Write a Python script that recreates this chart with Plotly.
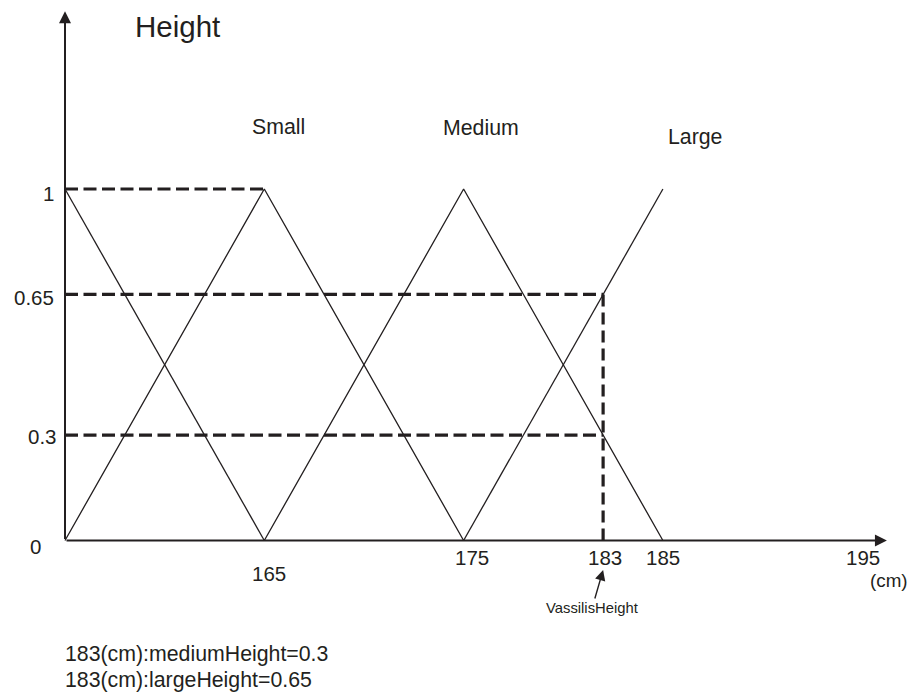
import plotly.graph_objects as go

# ---------------- data ----------------
small_x = [155, 165, 175]
small_y = [0, 1, 0]
medium_x = [165, 175, 185]
medium_y = [0, 1, 0]
large_x = [175, 185]
large_y = [0, 1]
falling_x = [155, 165]
falling_y = [1, 0]

# guide (dashed) lines, drawn positions as in the sketch
guide1_x = [155, 165]
guide1_y = [1, 1]
guide_hi_x = [155, 182]
guide_hi_y = [0.7, 0.7]
guide_lo_x = [155, 182]
guide_lo_y = [0.3, 0.3]
guide_v_x = [182, 182]
guide_v_y = [0.7, 0]

x_tick_vals = [165, 175, 182, 185, 195]
x_tick_text = ["165", "175", "183", "185", "195"]
y_tick_vals = [0, 0.3, 0.7, 1]
y_tick_text = ["0", "0.3", "0.65", "1"]

set_labels = ["Small", "Medium", "Large"]
notes = ["183(cm):mediumHeight=0.3", "183(cm):largeHeight=0.65"]

# ---------------- layout helpers ----------------
OFF = 8                      # page body margin
W, H = 908, 686
ML, MR, MT, MB = 47, 24, 2, 143
PW = W - ML - MR
PH = H - MT - MB
X0_REF, SX = 65.0, 19.93     # pixel of x=155 in the page, px per cm
Y0_REF, SY = 540.5, 351.5    # pixel of y=0 in the page, px per unit

x_lo = 155 - ((X0_REF - OFF) - ML) / SX
x_hi = 155 + ((W - MR) - (X0_REF - OFF)) / SX
y_lo = -((H - MB) - (Y0_REF - OFF)) / SY
y_hi = ((Y0_REF - OFF) - MT) / SY


def px(xp):
    return (xp - OFF - ML) / PW


def py(yp):
    return (H - MB - (yp - OFF)) / PH


FONT = "Liberation Sans, Arial, sans-serif"
INK = "#231f20"
FS = 21.3
FT = 20.5

fig = go.Figure()

for xs, ys, name in [(small_x, small_y, "Small"), (medium_x, medium_y, "Medium"),
                     (large_x, large_y, "Large"), (falling_x, falling_y, "falling")]:
    fig.add_trace(go.Scatter(x=xs, y=ys, mode="lines", name=name,
                             line=dict(color=INK, width=1.3), hoverinfo="skip"))

for xs, ys, dash in [(guide1_x, guide1_y, "13px,5.5px"), (guide_hi_x, guide_hi_y, "13px,5.5px"),
                     (guide_lo_x, guide_lo_y, "13px,5.5px"), (guide_v_x, guide_v_y, "12px,6px")]:
    fig.add_trace(go.Scatter(x=xs, y=ys, mode="lines",
                             line=dict(color=INK, width=3.2, dash=dash),
                             hoverinfo="skip"))

ann = []
# axes with arrows
ann.append(dict(x=196.24, y=0, ax=155, ay=0, xref="x", yref="y", axref="x", ayref="y",
                text="", showarrow=True, arrowhead=2, arrowsize=1.2, arrowwidth=2,
                arrowcolor=INK))
ann.append(dict(x=155, y=1.506, ax=155, ay=0, xref="x", yref="y", axref="x", ayref="y",
                text="", showarrow=True, arrowhead=2, arrowsize=1.2, arrowwidth=2,
                arrowcolor=INK))


def txt(**kw):
    d = dict(showarrow=False, xanchor="center", yanchor="middle")
    d.update(kw)
    return d


# x tick labels
x_label_px_y = [573, 557, 557, 557, 557]
x_label_shift = [5, 8, 2, 0, 1]
for v, t, yy, sh in zip(x_tick_vals, x_tick_text, x_label_px_y, x_label_shift):
    ann.append(txt(x=v, y=py(yy), xref="x", yref="paper", text=t, xshift=sh,
                   font=dict(size=FT, color=INK, family=FONT)))
ann.append(txt(x=px(910), y=py(580), xref="paper", yref="paper", text="(cm)",
               xanchor="right", font=dict(size=18.8, color=INK, family=FONT)))

# y tick labels
y_label_px_x = [35, 42, 34, 48]
y_label_shift = [-5.5, -1, -3, -4]
for v, t, xx, sh in zip(y_tick_vals, y_tick_text, y_label_px_x, y_label_shift):
    ann.append(txt(x=px(xx), y=v, xref="paper", yref="y", text=t, yshift=sh,
                   font=dict(size=FT, color=INK, family=FONT)))

# title
ann.append(txt(x=px(177), y=py(26), xref="paper", yref="paper", text="Height",
               font=dict(size=29.5, color=INK, family=FONT)))

# set labels
for t, (xx, yy) in zip(set_labels, [(278, 127), (481, 128), (695, 137)]):
    ann.append(txt(x=px(xx), y=py(yy), xref="paper", yref="paper", text=t,
                   font=dict(size=FS, color=INK, family=FONT)))

# VassilisHeight arrow
ann.append(dict(x=182, y=py(570), xref="x", yref="paper", text="VassilisHeight",
                showarrow=True, ax=-11, ay=38, arrowhead=2, arrowsize=1.5,
                arrowwidth=1.4, arrowcolor=INK, standoff=0,
                font=dict(size=14.8, color=INK, family=FONT)))

# notes
for t, yy in zip(notes, [654, 680]):
    ann.append(txt(x=px(63), y=py(yy), xref="paper", yref="paper", text=t,
                   xanchor="left", font=dict(size=FS, color=INK, family=FONT)))

fig.update_layout(
    width=W, height=H,
    margin=dict(l=ML, r=MR, t=MT, b=MB),
    paper_bgcolor="white", plot_bgcolor="white",
    showlegend=False,
    xaxis=dict(range=[x_lo, x_hi], visible=False, fixedrange=True),
    yaxis=dict(range=[y_lo, y_hi], visible=False, fixedrange=True),
    annotations=ann,
)

fig.write_html("out.html")
